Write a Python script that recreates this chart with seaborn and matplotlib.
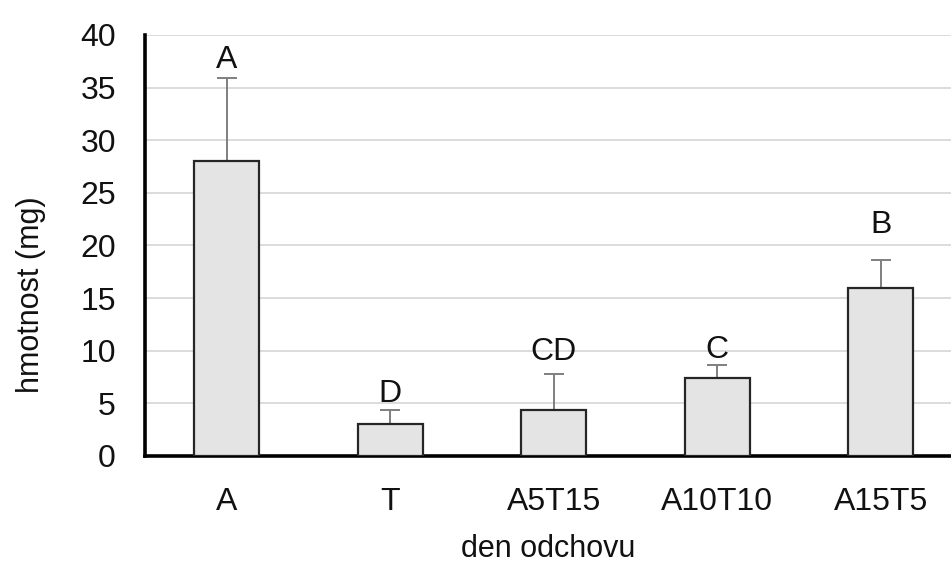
import numpy as np
import pandas as pd
import seaborn as sns
from matplotlib import pyplot as plt

# data
varianty = ['A', 'T', 'A5T15', 'A10T10', 'A15T5']
hmotnost = [28.0, 3.0, 4.4, 7.4, 16.0]
sd = [7.9, 1.4, 3.4, 1.2, 2.6]
pismena = ['A', 'D', 'CD', 'C', 'B']
pismena_y = [36.9, 5.1, 9.1, 9.3, 21.2]

sns.set_style('white')
plt.rcParams['font.family'] = ['Liberation Sans', 'DejaVu Sans']

df = pd.DataFrame({'varianta': varianty, 'hmotnost': hmotnost})

fig = plt.figure(figsize=(9.51, 5.64), dpi=100)
ax = fig.add_axes([0.1525, 0.1915, 0.8475, 0.7465])

sns.barplot(data=df, x='varianta', y='hmotnost', color='#e4e4e4', width=0.4,
            edgecolor='#262626', linewidth=1.6, saturation=1, errorbar=None, ax=ax, zorder=3)

x = np.arange(len(varianty))
ax.errorbar(x, hmotnost, yerr=[np.zeros(len(sd)), sd], fmt='none', ecolor='#7f7f7f',
            elinewidth=1.4, capsize=7, capthick=1.4, zorder=2)

for xi, t, yy in zip(x, pismena, pismena_y):
    ax.text(xi, yy, t, ha='center', va='baseline', fontsize=23, color='#111111')

ax.set_ylim(0, 40)
ax.set_xlim(-0.5, 4.43)
ax.set_yticks(range(0, 41, 5))
ax.yaxis.grid(True, color='#d9d9d9', linewidth=1.3, zorder=0)
ax.set_axisbelow(True)
ax.tick_params(axis='both', labelsize=23, length=0, colors='#111111')
ax.tick_params(axis='x', pad=22)
ax.tick_params(axis='y', pad=21)

for s in ['top', 'right']:
    ax.spines[s].set_visible(False)
for s in ['left', 'bottom']:
    ax.spines[s].set_color('black')
    ax.spines[s].set_linewidth(2.6)

ax.set_xlabel('den odchovu', fontsize=22, color='#111111')
ax.set_ylabel('hmotnost (mg)', fontsize=22, color='#111111')
ax.xaxis.set_label_coords(0.5, -0.185)
ax.yaxis.set_label_coords(-0.123, 0.382)

plt.savefig('out.png', dpi=100)
